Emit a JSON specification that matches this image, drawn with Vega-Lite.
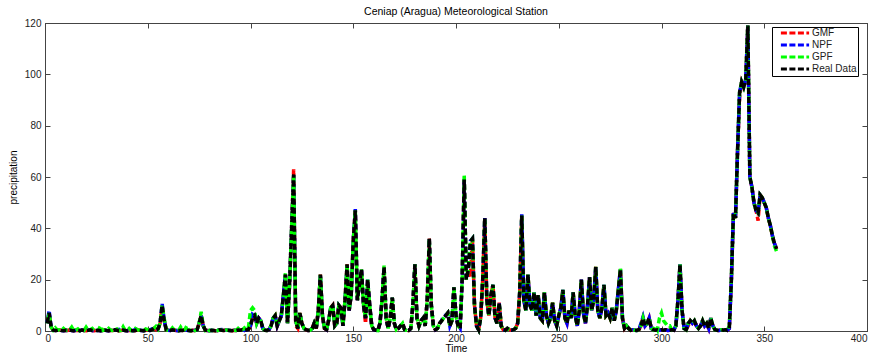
{
"$schema": "https://vega.github.io/schema/vega-lite/v6.json",
"width": 822, "height": 308,
"autosize": {"type": "none"},
"padding": {"left": 45, "top": 23, "right": 9, "bottom": 25},
"background": "white",
"title": {"text": "Ceniap (Aragua) Meteorological Station", "fontSize": 10.5, "fontWeight": "normal", "font": "Liberation Sans", "color": "#000", "offset": 1},
"config": {
  "view": {"stroke": "#444"},
  "axis": {"grid": false, "domainColor": "#444", "tickColor": "#444", "tickSize": -5, "labelPadding": 9, "labelFont": "Liberation Sans", "labelFontSize": 10, "labelColor": "#222", "titleFont": "Liberation Sans", "titleFontSize": 10, "titleFontWeight": "normal", "titleColor": "#000"},
  "legend": {"symbolDash": [6, 3], "symbolStrokeWidth": 3, "labelFont": "Liberation Sans", "labelFontSize": 10, "labelColor": "#222"}
},
"data": {"values": [
{"t":1,"r":3,"g":3,"n":3,"p":3},{"t":2,"r":7,"g":7,"n":8,"p":7},{"t":3,"r":1.5,"g":1.5,"n":1.5,"p":1.5},{"t":4,"r":0.3,"g":0.3,"n":0.3,"p":0.3},{"t":5,"r":0.2,"g":0.2,"n":0.2,"p":1.2},
{"t":6,"r":0.3,"g":0.3,"n":0.3,"p":0.3},{"t":7,"r":0.5,"g":0.5,"n":0.5,"p":0.5},{"t":8,"r":0.2,"g":0.2,"n":0.2,"p":0.2},{"t":9,"r":0.1,"g":0.1,"n":0.1,"p":1},{"t":10,"r":0.3,"g":0.3,"n":0.3,"p":0.3},
{"t":11,"r":0.2,"g":0.2,"n":0.2,"p":0.2},{"t":12,"r":0.4,"g":0.4,"n":0.4,"p":0.4},{"t":13,"r":0.2,"g":0.2,"n":0.2,"p":1.5},{"t":14,"r":0.1,"g":0.1,"n":0.1,"p":0.1},{"t":15,"r":0.3,"g":0.3,"n":0.3,"p":0.3},
{"t":16,"r":0.2,"g":0.2,"n":0.2,"p":0.8},{"t":17,"r":0.1,"g":0.1,"n":0.1,"p":0.1},{"t":18,"r":0.4,"g":0.4,"n":0.4,"p":0.4},{"t":19,"r":0.2,"g":0.2,"n":0.2,"p":0.2},{"t":20,"r":0.1,"g":0.1,"n":0.1,"p":1.5},
{"t":21,"r":0.3,"g":0.3,"n":0.3,"p":0.3},{"t":22,"r":0.5,"g":0.5,"n":0.5,"p":0.5},{"t":23,"r":0.2,"g":0.2,"n":0.2,"p":1},{"t":24,"r":0.1,"g":0.1,"n":0.1,"p":0.1},{"t":25,"r":0.2,"g":0.2,"n":0.2,"p":0.2},
{"t":26,"r":0.3,"g":0.3,"n":0.3,"p":0.3},{"t":27,"r":0.1,"g":0.1,"n":0.1,"p":2},{"t":28,"r":0.2,"g":0.2,"n":0.2,"p":0.2},{"t":29,"r":0.4,"g":0.4,"n":0.4,"p":0.4},{"t":30,"r":0.2,"g":0.2,"n":0.2,"p":0.2},
{"t":31,"r":0.1,"g":0.1,"n":0.1,"p":1},{"t":32,"r":0.3,"g":0.3,"n":0.3,"p":0.3},{"t":33,"r":0.2,"g":0.2,"n":0.2,"p":0.2},{"t":34,"r":0.5,"g":0.5,"n":0.5,"p":0.5},{"t":35,"r":0.3,"g":0.3,"n":0.3,"p":0.8},
{"t":36,"r":0.1,"g":0.1,"n":0.6,"p":0.1},{"t":37,"r":0.2,"g":0.2,"n":0.2,"p":0.2},{"t":38,"r":0.4,"g":0.4,"n":0.4,"p":1.6},{"t":39,"r":0.2,"g":0.2,"n":0.2,"p":0.2},{"t":40,"r":0.1,"g":0.1,"n":0.1,"p":0.1},
{"t":41,"r":0.3,"g":0.3,"n":0.3,"p":1},{"t":42,"r":0.2,"g":0.2,"n":0.2,"p":0.2},{"t":43,"r":0.1,"g":0.1,"n":0.1,"p":0.1},{"t":44,"r":0.2,"g":0.2,"n":0.8,"p":1},{"t":45,"r":0.5,"g":0.5,"n":0.5,"p":0.5},
{"t":46,"r":0.3,"g":0.3,"n":0.3,"p":0.3},{"t":47,"r":0.2,"g":0.2,"n":0.2,"p":0.2},{"t":48,"r":0.1,"g":0.1,"n":0.1,"p":0.1},{"t":49,"r":0.3,"g":0.3,"n":0.3,"p":0.8},{"t":50,"r":0.5,"g":0.5,"n":0.5,"p":0.5},
{"t":51,"r":0.2,"g":0.2,"n":0.2,"p":0.2},{"t":52,"r":0.4,"g":0.4,"n":0.8,"p":0.4},{"t":53,"r":1,"g":1,"n":1,"p":1},{"t":54,"r":0.5,"g":0.5,"n":0.5,"p":1.8},{"t":55,"r":0.8,"g":0.8,"n":0.8,"p":0.8},
{"t":56,"r":3,"g":3,"n":3,"p":3},{"t":57,"r":10,"g":10,"n":10.5,"p":10},{"t":58,"r":4,"g":4,"n":4,"p":5},{"t":59,"r":0.5,"g":0.5,"n":0.5,"p":0.5},{"t":60,"r":0.3,"g":0.3,"n":0.3,"p":0.3},
{"t":61,"r":0.2,"g":0.2,"n":0.2,"p":0.2},{"t":62,"r":0.5,"g":0.5,"n":0.5,"p":1.2},{"t":63,"r":0.3,"g":0.3,"n":0.3,"p":0.3},{"t":64,"r":0.2,"g":0.2,"n":0.2,"p":0.2},{"t":65,"r":0.1,"g":0.1,"n":0.1,"p":0.1},
{"t":66,"r":0.3,"g":0.3,"n":0.3,"p":1.5},{"t":67,"r":0.2,"g":0.2,"n":0.2,"p":0.2},{"t":68,"r":0.5,"g":0.5,"n":0.5,"p":0.5},{"t":69,"r":0.3,"g":0.3,"n":0.3,"p":2},{"t":70,"r":0.2,"g":0.2,"n":0.2,"p":0.2},
{"t":71,"r":0.1,"g":0.1,"n":0.1,"p":0.1},{"t":72,"r":0.3,"g":0.3,"n":0.3,"p":1},{"t":73,"r":0.2,"g":0.2,"n":0.2,"p":0.2},{"t":74,"r":0.5,"g":0.5,"n":0.5,"p":0.5},{"t":75,"r":3,"g":3,"n":3,"p":3},
{"t":76,"r":6,"g":6,"n":6,"p":7.5},{"t":77,"r":2,"g":2,"n":2,"p":2},{"t":78,"r":0.3,"g":0.3,"n":0.3,"p":0.3},{"t":79,"r":0.2,"g":0.2,"n":0.2,"p":1},{"t":80,"r":0.1,"g":0.1,"n":0.1,"p":0.1},
{"t":81,"r":0.3,"g":0.3,"n":0.3,"p":0.3},{"t":82,"r":0.2,"g":0.2,"n":0.2,"p":0.2},{"t":83,"r":0.1,"g":0.1,"n":0.1,"p":0.1},{"t":84,"r":0.2,"g":0.2,"n":0.2,"p":0.2},{"t":85,"r":0.5,"g":0.5,"n":0.5,"p":0.5},
{"t":86,"r":0.3,"g":0.3,"n":0.6,"p":0.3},{"t":87,"r":0.2,"g":0.2,"n":0.2,"p":0.2},{"t":88,"r":0.4,"g":0.4,"n":0.4,"p":0.4},{"t":89,"r":0.3,"g":0.3,"n":0.3,"p":0.3},{"t":90,"r":0.2,"g":0.2,"n":0.2,"p":0.2},
{"t":91,"r":0.1,"g":0.1,"n":0.1,"p":0.1},{"t":92,"r":0.3,"g":0.3,"n":0.3,"p":0.3},{"t":93,"r":0.2,"g":0.2,"n":0.2,"p":0.2},{"t":94,"r":0.4,"g":0.4,"n":0.4,"p":1},{"t":95,"r":0.3,"g":0.3,"n":0.3,"p":0.3},
{"t":96,"r":0.5,"g":0.5,"n":0.5,"p":0.5},{"t":97,"r":0.2,"g":0.2,"n":0.2,"p":1.2},{"t":98,"r":0.4,"g":0.4,"n":0.4,"p":0.4},{"t":99,"r":0.6,"g":0.6,"n":0.6,"p":1.5},{"t":100,"r":2,"g":2,"n":2,"p":8},
{"t":101,"r":5,"g":5,"n":6.5,"p":9},{"t":102,"r":6,"g":6,"n":6,"p":8},{"t":103,"r":3,"g":3,"n":3,"p":3},{"t":104,"r":5,"g":5,"n":5,"p":5},{"t":105,"r":4,"g":4,"n":4,"p":4},
{"t":106,"r":1,"g":1,"n":1,"p":1},{"t":107,"r":0.3,"g":0.3,"n":0.3,"p":0.3},{"t":108,"r":0.2,"g":0.2,"n":0.2,"p":0.2},{"t":109,"r":0.5,"g":0.5,"n":0.5,"p":0.5},{"t":110,"r":2,"g":2,"n":2,"p":2},
{"t":111,"r":5,"g":5,"n":5,"p":5},{"t":112,"r":6,"g":6,"n":6,"p":6},{"t":113,"r":2,"g":2,"n":2,"p":2},{"t":114,"r":4,"g":4,"n":4,"p":4},{"t":115,"r":6,"g":6,"n":6,"p":6},
{"t":116,"r":14,"g":14,"n":14,"p":14},{"t":117,"r":22,"g":22,"n":22,"p":22.5},{"t":118,"r":3,"g":3,"n":3,"p":3},{"t":119,"r":18,"g":18,"n":18,"p":18},{"t":120,"r":40,"g":40,"n":40,"p":40},
{"t":121,"r":61,"g":63,"n":61,"p":61},{"t":122,"r":4,"g":2,"n":4,"p":4},{"t":123,"r":1,"g":1,"n":1,"p":1},{"t":124,"r":7,"g":7,"n":7,"p":7},{"t":125,"r":3,"g":3,"n":3,"p":3},
{"t":126,"r":1,"g":1,"n":1,"p":1},{"t":127,"r":0.5,"g":0.5,"n":0.5,"p":0.5},{"t":128,"r":0.2,"g":0.2,"n":0.2,"p":0.2},{"t":129,"r":0.3,"g":0.3,"n":0.3,"p":0.3},{"t":130,"r":1,"g":1,"n":1,"p":1},
{"t":131,"r":3,"g":3,"n":3,"p":3},{"t":132,"r":1,"g":1,"n":1,"p":1},{"t":133,"r":8,"g":8,"n":8,"p":8},{"t":134,"r":22,"g":22,"n":22,"p":22},{"t":135,"r":6,"g":6,"n":6,"p":6},
{"t":136,"r":1,"g":1,"n":1,"p":1},{"t":137,"r":0.5,"g":0.5,"n":0.5,"p":0.5},{"t":138,"r":4,"g":4,"n":4,"p":4},{"t":139,"r":9,"g":9,"n":9,"p":9},{"t":140,"r":10,"g":10,"n":10,"p":10},
{"t":141,"r":2,"g":2,"n":2,"p":2},{"t":142,"r":3,"g":3,"n":3,"p":3},{"t":143,"r":10,"g":10,"n":10,"p":10},{"t":144,"r":9,"g":9,"n":9,"p":9},{"t":145,"r":2,"g":2,"n":2,"p":2},
{"t":146,"r":12,"g":12,"n":12,"p":12},{"t":147,"r":26,"g":26,"n":26,"p":26},{"t":148,"r":8,"g":8,"n":8,"p":8},{"t":149,"r":14,"g":14,"n":14,"p":14},{"t":150,"r":35,"g":35,"n":35,"p":35},
{"t":151,"r":47,"g":47,"n":47.5,"p":47},{"t":152,"r":12,"g":12,"n":12,"p":12},{"t":153,"r":18,"g":18,"n":18,"p":18},{"t":154,"r":24,"g":24,"n":24,"p":24},{"t":155,"r":10,"g":10,"n":10,"p":10},
{"t":156,"r":5,"g":3,"n":5,"p":5},{"t":157,"r":20,"g":20,"n":20,"p":20},{"t":158,"r":10,"g":10,"n":10,"p":10},{"t":159,"r":2,"g":2,"n":2,"p":2},{"t":160,"r":0.5,"g":0.5,"n":0.5,"p":0.5},
{"t":161,"r":0.3,"g":0.3,"n":0.3,"p":0.3},{"t":162,"r":0.2,"g":0.2,"n":0.2,"p":0.2},{"t":163,"r":3,"g":3,"n":3,"p":3},{"t":164,"r":12,"g":12,"n":12,"p":12},{"t":165,"r":25,"g":25,"n":25,"p":25.5},
{"t":166,"r":5,"g":5,"n":5,"p":5},{"t":167,"r":1,"g":1,"n":1,"p":1},{"t":168,"r":5,"g":5,"n":5,"p":5},{"t":169,"r":13,"g":13,"n":13,"p":13},{"t":170,"r":3,"g":3,"n":3,"p":3},
{"t":171,"r":0.5,"g":0.5,"n":0.5,"p":0.5},{"t":172,"r":1,"g":1,"n":1,"p":1},{"t":173,"r":2,"g":2,"n":2,"p":2},{"t":174,"r":3,"g":3,"n":3,"p":3},{"t":175,"r":0.5,"g":0.5,"n":0.5,"p":0.5},
{"t":176,"r":0.3,"g":0.3,"n":0.3,"p":0.3},{"t":177,"r":0.2,"g":0.2,"n":0.2,"p":0.2},{"t":178,"r":1,"g":1,"n":1,"p":1},{"t":179,"r":10,"g":10,"n":10,"p":10},{"t":180,"r":26,"g":26,"n":26,"p":26},
{"t":181,"r":5,"g":5,"n":5,"p":5},{"t":182,"r":2,"g":2,"n":2,"p":2},{"t":183,"r":4,"g":4,"n":4,"p":4},{"t":184,"r":5,"g":5,"n":5,"p":5},{"t":185,"r":2,"g":2,"n":2,"p":2},
{"t":186,"r":12,"g":12,"n":12,"p":12},{"t":187,"r":36,"g":36,"n":36,"p":36},{"t":188,"r":10,"g":10,"n":10,"p":10},{"t":189,"r":2,"g":2,"n":2,"p":2},{"t":190,"r":0.5,"g":0.5,"n":0.5,"p":0.5},
{"t":191,"r":1,"g":1,"n":1,"p":1},{"t":192,"r":3,"g":3,"n":3,"p":3},{"t":193,"r":4,"g":4,"n":4,"p":4},{"t":194,"r":5,"g":5,"n":6,"p":5},{"t":195,"r":6,"g":6,"n":6,"p":6},
{"t":196,"r":7,"g":7,"n":7,"p":7},{"t":197,"r":2,"g":2,"n":2,"p":2},{"t":198,"r":4,"g":4,"n":4,"p":4},{"t":199,"r":17,"g":17,"n":17,"p":17},{"t":200,"r":6,"g":6,"n":6,"p":6},
{"t":201,"r":2,"g":2,"n":2,"p":2},{"t":202,"r":1,"g":1,"n":1,"p":1},{"t":203,"r":20,"g":20,"n":20,"p":20},{"t":204,"r":59,"g":59,"n":59,"p":61},{"t":205,"r":20,"g":20,"n":20,"p":20},
{"t":206,"r":24,"g":24,"n":24,"p":24},{"t":207,"r":35,"g":21,"n":35,"p":35},{"t":208,"r":36,"g":36,"n":36,"p":36},{"t":209,"r":10,"g":10,"n":10,"p":10},{"t":210,"r":2,"g":2,"n":2,"p":2},
{"t":211,"r":0.5,"g":0.5,"n":0.5,"p":0.5},{"t":212,"r":5,"g":5,"n":5,"p":5},{"t":213,"r":20,"g":20,"n":20,"p":20},{"t":214,"r":44,"g":44,"n":44,"p":44},{"t":215,"r":12,"g":12,"n":12,"p":12},
{"t":216,"r":6,"g":6,"n":6,"p":6},{"t":217,"r":14,"g":14,"n":14,"p":14},{"t":218,"r":18,"g":18,"n":18,"p":18},{"t":219,"r":5,"g":5,"n":5,"p":5},{"t":220,"r":3,"g":3,"n":3,"p":3},
{"t":221,"r":11,"g":11,"n":11,"p":11},{"t":222,"r":2,"g":2,"n":2,"p":2},{"t":223,"r":0.5,"g":0.5,"n":0.5,"p":0.5},{"t":224,"r":0.3,"g":0.3,"n":0.3,"p":0.3},{"t":225,"r":1,"g":1,"n":1,"p":1},
{"t":226,"r":0.5,"g":0.5,"n":0.5,"p":0.5},{"t":227,"r":0.3,"g":0.3,"n":0.3,"p":0.3},{"t":228,"r":0.5,"g":0.5,"n":0.5,"p":0.5},{"t":229,"r":1,"g":1,"n":1,"p":1},{"t":230,"r":3,"g":3,"n":3,"p":3},
{"t":231,"r":15,"g":15,"n":15,"p":15},{"t":232,"r":45,"g":45,"n":45.5,"p":45},{"t":233,"r":12,"g":12,"n":12,"p":12},{"t":234,"r":8,"g":8,"n":8,"p":8},{"t":235,"r":22,"g":22,"n":22,"p":22},
{"t":236,"r":10,"g":10,"n":10,"p":10},{"t":237,"r":8,"g":8,"n":8,"p":8},{"t":238,"r":15,"g":15,"n":15,"p":15},{"t":239,"r":6,"g":6,"n":6,"p":6},{"t":240,"r":14,"g":14,"n":14,"p":14},
{"t":241,"r":5,"g":5,"n":5,"p":5},{"t":242,"r":4,"g":4,"n":4,"p":4},{"t":243,"r":15,"g":15,"n":15,"p":15},{"t":244,"r":6,"g":6,"n":6,"p":6},{"t":245,"r":3,"g":3,"n":3,"p":3},
{"t":246,"r":5,"g":5,"n":5,"p":5},{"t":247,"r":11,"g":11,"n":11,"p":11},{"t":248,"r":4,"g":4,"n":4,"p":4},{"t":249,"r":2,"g":2,"n":2,"p":2},{"t":250,"r":6,"g":6,"n":6,"p":6},
{"t":251,"r":9,"g":9,"n":9,"p":9},{"t":252,"r":16,"g":16,"n":16,"p":16},{"t":253,"r":5,"g":5,"n":5,"p":5},{"t":254,"r":3,"g":3,"n":3,"p":3},{"t":255,"r":8,"g":8,"n":8,"p":8},
{"t":256,"r":5,"g":5,"n":5,"p":5},{"t":257,"r":15,"g":15,"n":15,"p":15},{"t":258,"r":6,"g":6,"n":6,"p":6},{"t":259,"r":2,"g":2,"n":2,"p":2},{"t":260,"r":8,"g":8,"n":8,"p":8},
{"t":261,"r":20,"g":20,"n":20,"p":20},{"t":262,"r":7,"g":7,"n":7,"p":7},{"t":263,"r":3,"g":3,"n":3,"p":3},{"t":264,"r":10,"g":10,"n":10,"p":10},{"t":265,"r":21,"g":21,"n":21,"p":21},
{"t":266,"r":8,"g":8,"n":8,"p":8},{"t":267,"r":12,"g":12,"n":12,"p":12},{"t":268,"r":25,"g":25,"n":25,"p":25},{"t":269,"r":8,"g":8,"n":8,"p":8},{"t":270,"r":5,"g":5,"n":5,"p":5},
{"t":271,"r":9,"g":9,"n":9,"p":9},{"t":272,"r":18,"g":18,"n":18,"p":18},{"t":273,"r":6,"g":6,"n":6,"p":6},{"t":274,"r":7,"g":7,"n":7,"p":7},{"t":275,"r":5,"g":5,"n":5,"p":5},
{"t":276,"r":9,"g":9,"n":9,"p":9},{"t":277,"r":4,"g":4,"n":4,"p":4},{"t":278,"r":8,"g":8,"n":8,"p":8},{"t":279,"r":16,"g":16,"n":16,"p":16},{"t":280,"r":24,"g":24,"n":24,"p":24.5},
{"t":281,"r":5,"g":5,"n":5,"p":5},{"t":282,"r":1,"g":1,"n":1,"p":1},{"t":283,"r":2,"g":2,"n":2,"p":2},{"t":284,"r":1,"g":1,"n":1,"p":1},{"t":285,"r":0.3,"g":0.3,"n":0.3,"p":0.3},
{"t":286,"r":0.5,"g":0.5,"n":0.5,"p":0.5},{"t":287,"r":0.3,"g":0.3,"n":0.3,"p":0.3},{"t":288,"r":0.2,"g":0.2,"n":0.2,"p":0.2},{"t":289,"r":0.5,"g":0.5,"n":0.5,"p":0.5},{"t":290,"r":2,"g":2,"n":3,"p":2},
{"t":291,"r":5,"g":5,"n":5.5,"p":5},{"t":292,"r":2,"g":2,"n":2,"p":2},{"t":293,"r":3,"g":3,"n":3,"p":3},{"t":294,"r":5,"g":5,"n":5,"p":5},{"t":295,"r":1,"g":1,"n":1,"p":1},
{"t":296,"r":0.5,"g":0.5,"n":0.5,"p":0.5},{"t":297,"r":0.3,"g":0.3,"n":0.3,"p":2},{"t":298,"r":0.5,"g":0.5,"n":0.5,"p":0.5},{"t":299,"r":0.3,"g":0.3,"n":0.3,"p":5},{"t":300,"r":0.5,"g":0.5,"n":0.5,"p":7},
{"t":301,"r":0.3,"g":0.3,"n":0.3,"p":4},{"t":302,"r":0.5,"g":0.5,"n":0.5,"p":3},{"t":303,"r":0.2,"g":0.2,"n":0.2,"p":2},{"t":304,"r":0.3,"g":0.3,"n":0.3,"p":2},{"t":305,"r":0.5,"g":0.5,"n":0.5,"p":0.5},
{"t":306,"r":0.3,"g":0.3,"n":0.3,"p":1},{"t":307,"r":2,"g":2,"n":2,"p":2},{"t":308,"r":12,"g":12,"n":12,"p":12},{"t":309,"r":26,"g":26,"n":26,"p":26},{"t":310,"r":8,"g":8,"n":8,"p":8},
{"t":311,"r":1,"g":1,"n":1,"p":1},{"t":312,"r":0.5,"g":0.5,"n":0.5,"p":0.5},{"t":313,"r":3,"g":2,"n":3,"p":3},{"t":314,"r":4,"g":4,"n":4,"p":4},{"t":315,"r":3,"g":3,"n":3,"p":3},
{"t":316,"r":4,"g":4,"n":4,"p":4},{"t":317,"r":2,"g":2,"n":2,"p":2},{"t":318,"r":1,"g":1,"n":1,"p":1},{"t":319,"r":2,"g":2,"n":2,"p":2},{"t":320,"r":4,"g":4,"n":4,"p":4},
{"t":321,"r":2,"g":2,"n":2,"p":2},{"t":322,"r":3,"g":3,"n":3,"p":3},{"t":323,"r":1,"g":1,"n":1,"p":1},{"t":324,"r":5,"g":5,"n":5,"p":5},{"t":325,"r":2,"g":2,"n":2,"p":2},
{"t":326,"r":0.5,"g":0.5,"n":0.5,"p":0.5},{"t":327,"r":0.3,"g":0.3,"n":0.3,"p":0.3},{"t":328,"r":0.2,"g":0.2,"n":0.2,"p":0.2},{"t":329,"r":0.5,"g":0.5,"n":0.5,"p":0.5},{"t":330,"r":0.3,"g":0.3,"n":0.3,"p":0.3},
{"t":331,"r":0.5,"g":0.5,"n":0.5,"p":0.5},{"t":332,"r":0.3,"g":0.3,"n":0.3,"p":0.3},{"t":333,"r":1,"g":1,"n":1,"p":2},{"t":334,"r":20,"g":20,"n":20,"p":20},{"t":335,"r":46,"g":46,"n":46,"p":46},
{"t":336,"r":44,"g":44,"n":44,"p":44},{"t":337,"r":70,"g":70,"n":70,"p":70},{"t":338,"r":93,"g":91,"n":93,"p":93},{"t":339,"r":97,"g":97,"n":97,"p":97},{"t":340,"r":95,"g":95,"n":95,"p":95},
{"t":341,"r":98,"g":98,"n":98,"p":98},{"t":342,"r":119,"g":119,"n":119,"p":119},{"t":343,"r":60,"g":60,"n":60,"p":60},{"t":344,"r":56,"g":56,"n":56,"p":56},{"t":345,"r":50,"g":50,"n":50,"p":50},
{"t":346,"r":47,"g":47,"n":47,"p":47},{"t":347,"r":46,"g":43,"n":46,"p":46},{"t":348,"r":53,"g":53,"n":53,"p":53},{"t":349,"r":52,"g":52,"n":52,"p":52},{"t":350,"r":50,"g":50,"n":50,"p":50},
{"t":351,"r":48,"g":48,"n":48,"p":48},{"t":352,"r":44,"g":44,"n":44,"p":44},{"t":353,"r":41,"g":41,"n":41,"p":41},{"t":354,"r":37,"g":37,"n":37,"p":37},{"t":355,"r":34,"g":34,"n":34,"p":33},
{"t":356,"r":32,"g":32,"n":32,"p":31}
]},
"layer": [
  {"mark": {"type": "line", "strokeWidth": 3.5, "strokeDash": [6, 3], "strokeDashOffset": 6},
   "encoding": {
     "x": {"field": "t", "type": "quantitative", "scale": {"domain": [0, 400], "nice": false, "zero": false}, "axis": {"orient": "bottom", "values": [0,50,100,150,200,250,300,350,400], "title": "Time", "titlePadding": 0, "labelPadding": 7}},
     "y": {"field": "g", "type": "quantitative", "scale": {"domain": [0, 120], "nice": false}, "axis": {"orient": "left", "values": [0,20,40,60,80,100,120], "title": "precipitation", "titlePadding": 6}},
     "color": {"datum": "GMF", "type": "nominal", "scale": {"domain": ["GMF", "NPF", "GPF", "Real Data"], "range": ["#ff0000", "#0000ff", "#00ff00", "#000000"]},
       "legend": {"title": null, "orient": "none", "legendX": 727, "legendY": 4, "strokeColor": "#000", "fillColor": "#fff", "padding": 1, "symbolType": "M-4.7,0H4.7", "symbolSize": 36, "symbolOffset": 17, "labelOffset": 12, "rowPadding": 0, "symbolDash": [6, 2.5], "symbolStrokeWidth": 3}}
   }},
  {"mark": {"type": "line", "strokeWidth": 3.5, "strokeDash": [6, 3], "strokeDashOffset": 3},
   "encoding": {
     "x": {"field": "t", "type": "quantitative", "axis": {"orient": "top", "values": [0,50,100,150,200,250,300,350,400], "labels": false, "title": null}},
     "y": {"field": "n", "type": "quantitative", "axis": {"orient": "right", "values": [0,20,40,60,80,100,120], "labels": false, "title": null}},
     "color": {"datum": "NPF", "type": "nominal"}
   }},
  {"mark": {"type": "line", "strokeWidth": 3.5, "strokeDash": [6, 3], "strokeDashOffset": 4.5},
   "encoding": {
     "x": {"field": "t", "type": "quantitative", "axis": null},
     "y": {"field": "p", "type": "quantitative", "axis": null},
     "color": {"datum": "GPF", "type": "nominal"}
   }},
  {"mark": {"type": "line", "strokeWidth": 3.5, "strokeDash": [6, 3], "strokeDashOffset": 0},
   "encoding": {
     "x": {"field": "t", "type": "quantitative", "axis": null},
     "y": {"field": "r", "type": "quantitative", "axis": null},
     "color": {"datum": "Real Data", "type": "nominal"}
   }}
],
"resolve": {"axis": {"x": "independent", "y": "independent"}}
}
